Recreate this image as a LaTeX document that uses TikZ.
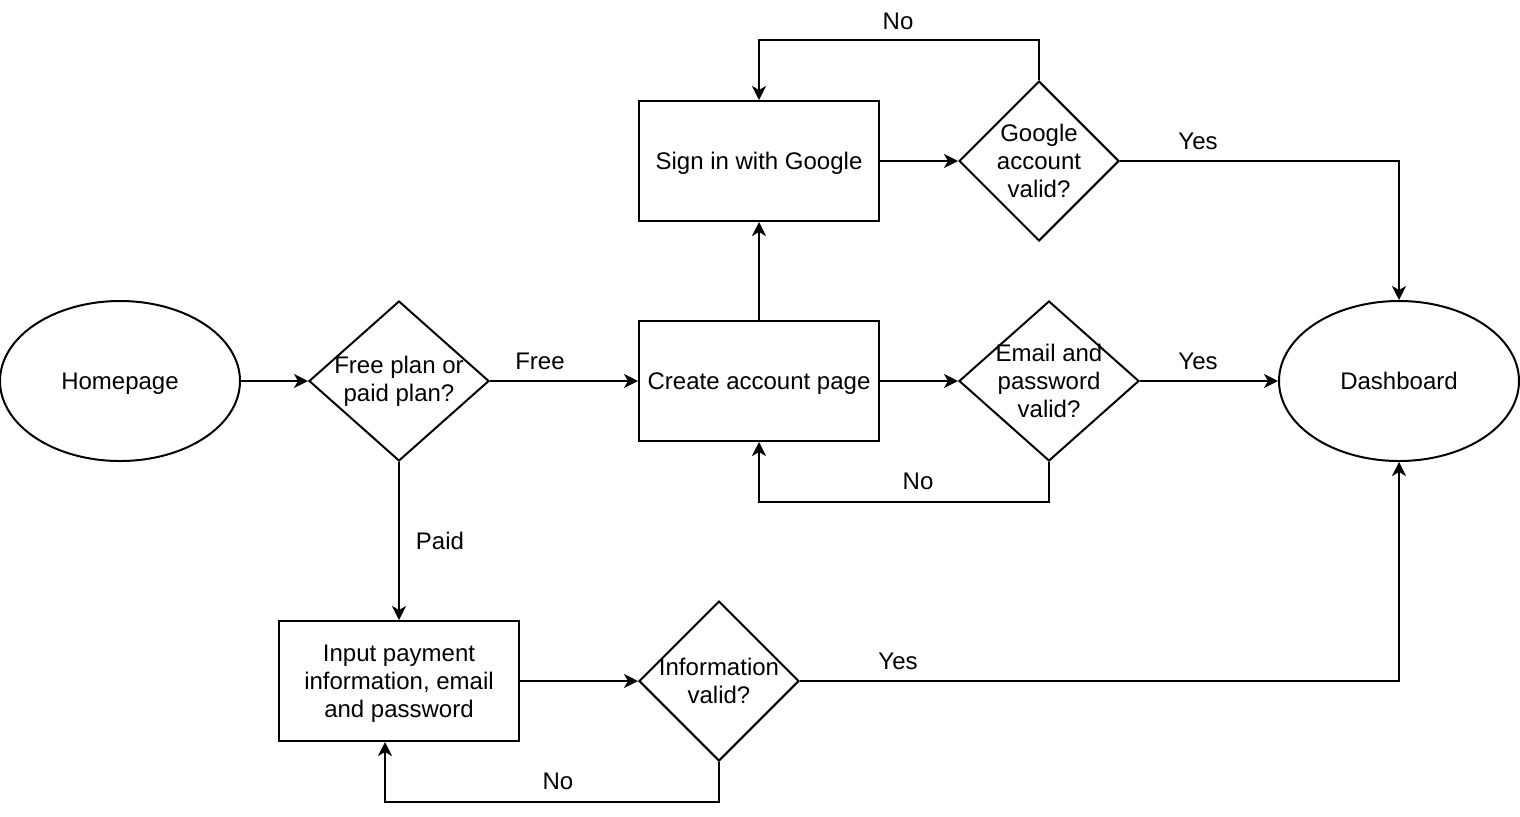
\documentclass[tikz,border=0pt]{standalone}
\usepackage{fontspec}
\setmainfont{Liberation Sans}
\usetikzlibrary{arrows.meta, shapes.geometric}

\begin{document}
\begin{tikzpicture}[x=0.5pt, y=-0.5pt, >={Stealth[length=7pt, width=7pt, inset=2pt]},
  every node/.style={font=\fontsize{12}{14}\selectfont},
  terminal/.style={draw, ellipse, line width=1pt, minimum width=120pt, minimum height=80pt, inner sep=0pt, text depth=0pt},
  process/.style={draw, rectangle, line width=1pt, minimum width=120pt, minimum height=60pt, inner sep=0pt, align=center, text depth=0pt},
  decision/.style={draw, diamond, line width=1pt, inner sep=0pt},
  flow/.style={->, line width=1pt}]

\useasboundingbox (0,0) rectangle (1520,816);

% Define the nodes with coordinates
\node[terminal] (home) at (120,381) {Homepage};
\node[decision, minimum width=90pt, minimum height=80pt,
  label={[align=center]center:Free plan or\\paid plan?}] (plan) at (399,381) {};
\node[process] (create) at (759,381) {Create account page};
\node[process] (google) at (759,161) {Sign in with Google};
\node[decision, minimum width=80pt, minimum height=80pt,
  label={[align=center]center:Google\\account\\valid?}] (gvalid) at (1039,161) {};
\node[decision, minimum width=90pt, minimum height=80pt,
  label={[align=center]center:Email and\\password\\valid?}] (evalid) at (1049,381) {};
\node[terminal] (dash) at (1399,381) {Dashboard};
\node[process] (pay) at (399,681) {Input payment\\information, email\\and password};
\node[decision, minimum width=80pt, minimum height=80pt,
  label={[align=center]center:Information\\valid?}] (ivalid) at (719,681) {};

% Edge labels
\node (lfree) at (540,361) {Free};
\node (lpaid) at (440,541) {Paid};
\node (lgno) at (898,21) {No};
\node (lgyes) at (1198,141) {Yes};
\node (leyes) at (1198,361) {Yes};
\node (leno) at (918,481) {No};
\node (liyes) at (898,661) {Yes};
\node (lino) at (558,781) {No};

% Draw the edges
\draw[flow] (home) -- (plan);
\draw[flow] (plan) -- (create);
\draw[flow] (plan) -- (pay);
\draw[flow] (create) -- (google);
\draw[flow] (google) -- (gvalid);
\draw[flow] (gvalid.north) -- ++(0,-40) -| (google.north);
\draw[flow] (gvalid.east) -| (dash.north);
\draw[flow] (create) -- (evalid);
\draw[flow] (evalid) -- (dash);
\draw[flow] (evalid.south) -- ++(0,40) -| (create.south);
\draw[flow] (pay) -- (ivalid);
\draw[flow] (ivalid.east) -| (dash.south);
\draw[flow] (ivalid.south) -- ++(0,40) -| ([xshift=-7pt]pay.south);

\end{tikzpicture}
\end{document}
